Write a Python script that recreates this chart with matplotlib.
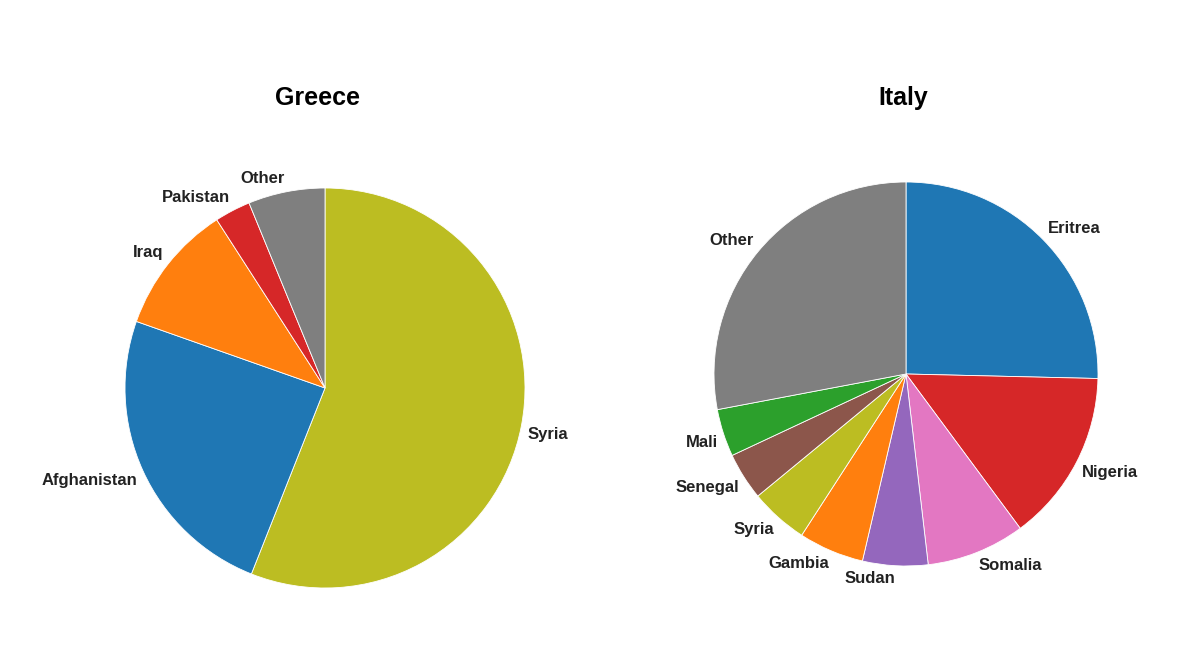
import matplotlib.pyplot as plt

plt.rcParams['font.family'] = ['Liberation Sans', 'DejaVu Sans']

# Greece shares (%), clockwise from 12 o'clock
greece_labels = ['Syria', 'Afghanistan', 'Iraq', 'Pakistan', 'Other']
greece_values = [56.0, 24.4, 10.5, 2.9, 6.2]
greece_colors = ['#bcbd22', '#1f77b4', '#ff7f0e', '#d62728', '#7f7f7f']

# Italy shares (%)
italy_labels = ['Eritrea', 'Nigeria', 'Somalia', 'Sudan', 'Gambia',
                'Syria', 'Senegal', 'Mali', 'Other']
italy_values = [25.4, 14.5, 8.3, 5.5, 5.5, 4.9, 4.0, 4.0, 28.0]
italy_colors = ['#1f77b4', '#d62728', '#e377c2', '#9467bd', '#ff7f0e',
                '#bcbd22', '#8c564b', '#2ca02c', '#7f7f7f']

W, H = 1200, 654
fig = plt.figure(figsize=(W / 100, H / 100), dpi=100)


def draw_pie(cx, cy, r, values, labels, colors, title, title_x):
    # axes box in pixels, pie radius 1 -> r pixels, limits +-1.6
    half = r * 1.6
    ax = fig.add_axes([(cx - half) / W, 1 - (cy + half) / H, 2 * half / W, 2 * half / H])
    wedges, texts = ax.pie(values, labels=labels, colors=colors, startangle=90,
                           counterclock=False, labeldistance=1.03,
                           wedgeprops=dict(edgecolor='white', linewidth=0.6),
                           textprops=dict(fontsize=12, fontweight='bold', color='#222222'))
    # push labels away vertically like the original
    for t in texts:
        x, y = t.get_position()
        t.set_va('bottom' if y > 0 else 'top')
    ax.set_xlim(-1.6, 1.6)
    ax.set_ylim(-1.6, 1.6)
    ax.set_aspect('equal')
    ax.axis('off')
    fig.text(title_x / W, 1 - 98 / H, title, ha='center', va='center',
             fontsize=18, fontweight='bold', color='black')


draw_pie(325, 388, 200, greece_values, greece_labels, greece_colors, 'Greece', 318)
draw_pie(906, 374, 192, italy_values, italy_labels, italy_colors, 'Italy', 903)

fig.savefig('out.png', dpi=100, facecolor='white')
